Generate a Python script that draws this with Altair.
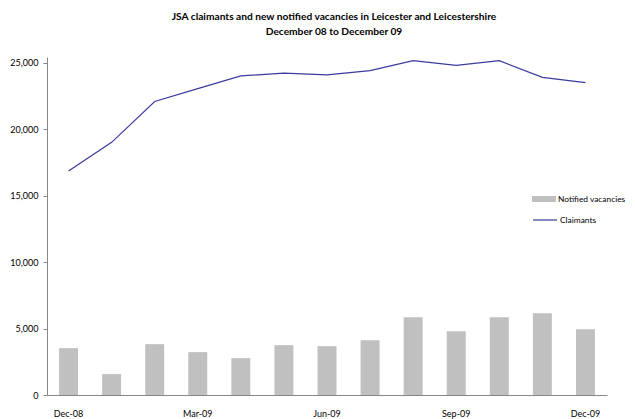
import altair as alt
import pandas as pd

months = ["Dec-08", "Jan-09", "Feb-09", "Mar-09", "Apr-09", "May-09", "Jun-09",
          "Jul-09", "Aug-09", "Sep-09", "Oct-09", "Nov-09", "Dec-09"]
vacancies = [3525, 1575, 3825, 3225, 2775, 3750, 3675, 4125, 5850, 4800, 5850, 6150, 4950]
claimants = [16850, 19010, 22080, 23050, 24010, 24210, 24085, 24400, 25150, 24800, 25150, 23900, 23500]
shown_labels = ["Dec-08", "Mar-09", "Jun-09", "Sep-09", "Dec-09"]
y_ticks = [0, 5000, 10000, 15000, 20000, 25000]

df = pd.DataFrame({
    "month": months,
    "vacancies": vacancies,
    "claimants": claimants,
    "vs": ["Notified vacancies"] * len(months),
    "cs": ["Claimants"] * len(months),
})

FONT = "Lato"
label_expr = "indexof(" + str(shown_labels).replace('"', "'") + ", datum.value) >= 0 ? datum.value : ''"

x = alt.X("month:N", sort=months, title=None,
          scale=alt.Scale(paddingInner=0.56, paddingOuter=0.28),
          axis=alt.Axis(labelAngle=0, ticks=False, labelExpr=label_expr,
                        labelPadding=14, labelFontSize=9, labelFont=FONT,
                        labelColor="#000", domainColor="#888", labelBaseline="top"))
y_scale = alt.Scale(domain=[0, 25430], nice=False, zero=True)
y_axis = alt.Axis(values=y_ticks, format=",d", grid=False, tickSize=4,
                  tickColor="#888", domainColor="#888", labelFontSize=9,
                  labelFont=FONT, labelColor="#000", labelPadding=5, title=None)

bars = alt.Chart(df).mark_bar(color="#c0c0c0").encode(
    x=x,
    y=alt.Y("vacancies:Q", scale=y_scale, axis=y_axis),
    fill=alt.Fill("vs:N", scale=alt.Scale(domain=["Notified vacancies"], range=["#c0c0c0"]),
                  legend=alt.Legend(title=None, orient="none", legendX=485, legendY=130,
                                    symbolType="M-1,-0.25H1V0.25H-1Z", symbolSize=576,
                                    symbolStrokeWidth=0, labelFontSize=8.4, labelFont=FONT,
                                    labelOffset=2, padding=0, labelLimit=200)),
)

line = alt.Chart(df).mark_line(strokeWidth=1.2).encode(
    x=x,
    y=alt.Y("claimants:Q", scale=y_scale, axis=y_axis),
    stroke=alt.Stroke("cs:N", scale=alt.Scale(domain=["Claimants"], range=["#3a3aa0"]),
                      legend=alt.Legend(title=None, orient="none", legendX=485, legendY=150,
                                        symbolType="stroke", symbolSize=576,
                                        symbolStrokeWidth=1.2, labelFontSize=8.4, labelFont=FONT,
                                        labelOffset=2, padding=0, labelLimit=200)),
)

chart = alt.layer(bars, line).resolve_scale(fill="independent", stroke="independent").properties(
    width=560,
    height=338,
    padding={"left": 39, "top": 49, "right": 20, "bottom": 30},
    autosize=alt.AutoSizeParams(type="none"),
    title=alt.TitleParams(
        ["JSA claimants and new notified vacancies in Leicester and Leicestershire",
         "December 08 to December 09"],
        fontSize=10.2, font=FONT, fontWeight="bold", anchor="middle", dx=7,
        offset=20, lineHeight=15.3, color="#000"),
).configure_view(stroke=None)

chart.save("out.html", embed_options={"renderer": "svg", "actions": False})
